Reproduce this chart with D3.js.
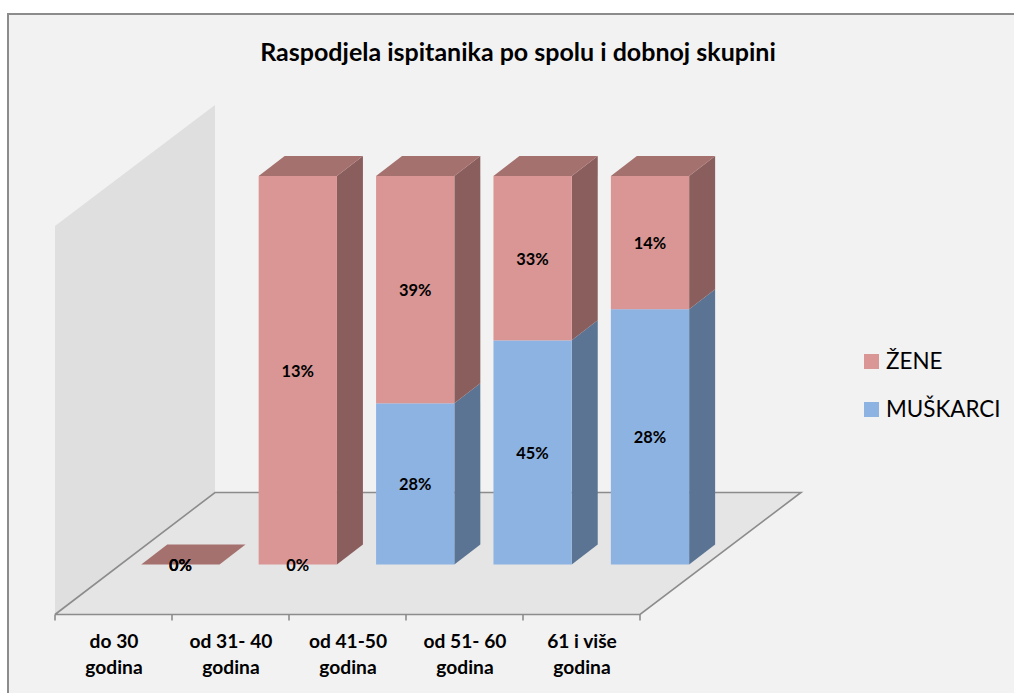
<!DOCTYPE html>
<html><head><meta charset="utf-8">
<script src="https://cdn.jsdelivr.net/npm/d3@7/dist/d3.min.js"></script>
<style>html,body{margin:0;padding:0;background:#fff;overflow:hidden}svg{display:block}text{font-family:Lato,"Open Sans",sans-serif;fill:#000}</style>
</head><body><svg id="c" width="1014" height="693"></svg>
<script>
const title = "Raspodjela ispitanika po spolu i dobnoj skupini";
const categories = ["do 30 godina","od 31- 40 godina","od 41-50 godina","od 51- 60 godina","61 i više godina"];
const categoryLines = [["do 30","godina"],["od 31- 40","godina"],["od 41-50","godina"],["od 51- 60","godina"],["61 i više","godina"]];
const men = [0,0,27.8,45,27.6];
const women = [0,13,39.2,33,14.4];
const seriesNames = ["MUŠKARCI","ŽENE"];
const legendOrder = ["ŽENE","MUŠKARCI"];
const palette = {
  "MUŠKARCI":{front:"#8db3e2",side:"#5b7493",top:"#6f8cb0"},
  "ŽENE":{front:"#d99694",side:"#8b5e5e",top:"#a5716e"}
};
const svg = d3.select("#c");
svg.append("rect").attr("x",8).attr("y",14).attr("width",1006).attr("height",679).attr("fill","#f2f2f2");
svg.append("path").attr("d","M8,693V14H1014").attr("fill","none").attr("stroke","#8c8c8c").attr("stroke-width",2);
svg.append("text").attr("x",518).attr("y",61).attr("text-anchor","middle").attr("font-size",25).attr("font-weight",700).text(title);

const depthX=160, depthY=122, barDX=26, barDY=20, offX=66.7;
const axisX = d3.scaleBand().domain(categories).range([55,640]);
const x = d3.scaleBand().domain(categories).range([55+offX,640+offX+2]).paddingInner(1/3).paddingOuter(1/6);
const y = d3.scaleLinear().domain([0,100]).range([564.5,176]);
const baseY = 614.5;
const line = d3.line();

svg.append("path").attr("fill","#dfdfdf").attr("d",line([[55,226],[55+depthX,105],[55+depthX,baseY-depthY],[55,baseY]])+"Z");
svg.append("path").attr("fill","#e5e5e5").attr("d",line([[55,baseY],[55+depthX,baseY-depthY],[640+depthX+1,baseY-depthY],[640,baseY]])+"Z");
svg.append("path").attr("fill","none").attr("stroke","#8c8c8c").attr("stroke-width",1.6)
  .attr("d",line([[55,baseY],[55+depthX,baseY-depthY],[640+depthX+1,baseY-depthY],[640,baseY],[55,baseY]]));
const ticks = categories.map(c=>axisX(c)).concat([640]);
svg.append("g").selectAll("line").data(ticks).join("line")
  .attr("x1",d=>d).attr("x2",d=>d).attr("y1",baseY).attr("y2",baseY+6).attr("stroke","#8c8c8c").attr("stroke-width",1.6);
const axG = svg.append("g").attr("transform",`translate(0,${baseY})`).call(d3.axisBottom(axisX).tickSize(0).tickFormat(""));
axG.select(".domain").remove();
axG.selectAll(".tick text").remove();
categories.forEach((c,i)=>{
  const t = svg.append("text").attr("text-anchor","middle").attr("font-size",19.2).attr("font-weight",700);
  categoryLines[i].forEach((l,k)=>t.append("tspan").attr("x",axisX(c)+axisX.bandwidth()/2+0.5).attr("y",648+k*26).text(l));
});
const rows = categories.map((c,i)=>({c,"MUŠKARCI":men[i],"ŽENE":women[i]}));
const share = rows.map(r=>{
  const total = r["MUŠKARCI"]+r["ŽENE"];
  const a = total? r["MUŠKARCI"]/total*100:0, b = total? r["ŽENE"]/total*100:0;
  return {c:r.c,"MUŠKARCI":a,"ŽENE":b};
});
const stacked = d3.stack().keys(seriesNames)(share);
const labels = [];
stacked.forEach(layer=>{
  const name = layer.key, col = palette[name];
  const g = svg.append("g");
  layer.forEach((d,i)=>{
    const c = d.data.c, x0=x(c), x1=x0+x.bandwidth(), yb=y(d[0]), yt=y(d[1]);
    const raw = name==="MUŠKARCI"?men[i]:women[i];
    labels.push({x:(x0+x1)/2,y:(yb+yt)/2,t:Math.round(raw)+"%"});
    if(yb>yt){
      g.append("path").attr("fill",col.side).attr("d",line([[x1,yb],[x1+barDX,yb-barDY],[x1+barDX,yt-barDY],[x1,yt]])+"Z");
      g.append("rect").attr("x",x0).attr("y",yt).attr("width",x.bandwidth()).attr("height",yb-yt).attr("fill",col.front);
    }
    if(name==="ŽENE"){
      g.append("path").attr("fill",col.top).attr("d",line([[x0,yt],[x0+barDX,yt-barDY],[x1+barDX,yt-barDY],[x1,yt]])+"Z");
    }
  });
});
svg.append("g").selectAll("text").data(labels).join("text")
  .attr("x",d=>d.x).attr("y",d=>d.y+6.5).attr("text-anchor","middle").attr("font-size",16.4).attr("font-weight",700).text(d=>d.t);
const legendY = d3.scalePoint().domain(legendOrder).range([354,402]);
legendOrder.forEach(n=>{
  svg.append("rect").attr("x",864).attr("y",legendY(n)).attr("width",15).attr("height",15).attr("fill",palette[n].front);
  svg.append("text").attr("x",886).attr("y",legendY(n)+15).attr("font-size",22.4).text(n);
});
</script></body></html>
